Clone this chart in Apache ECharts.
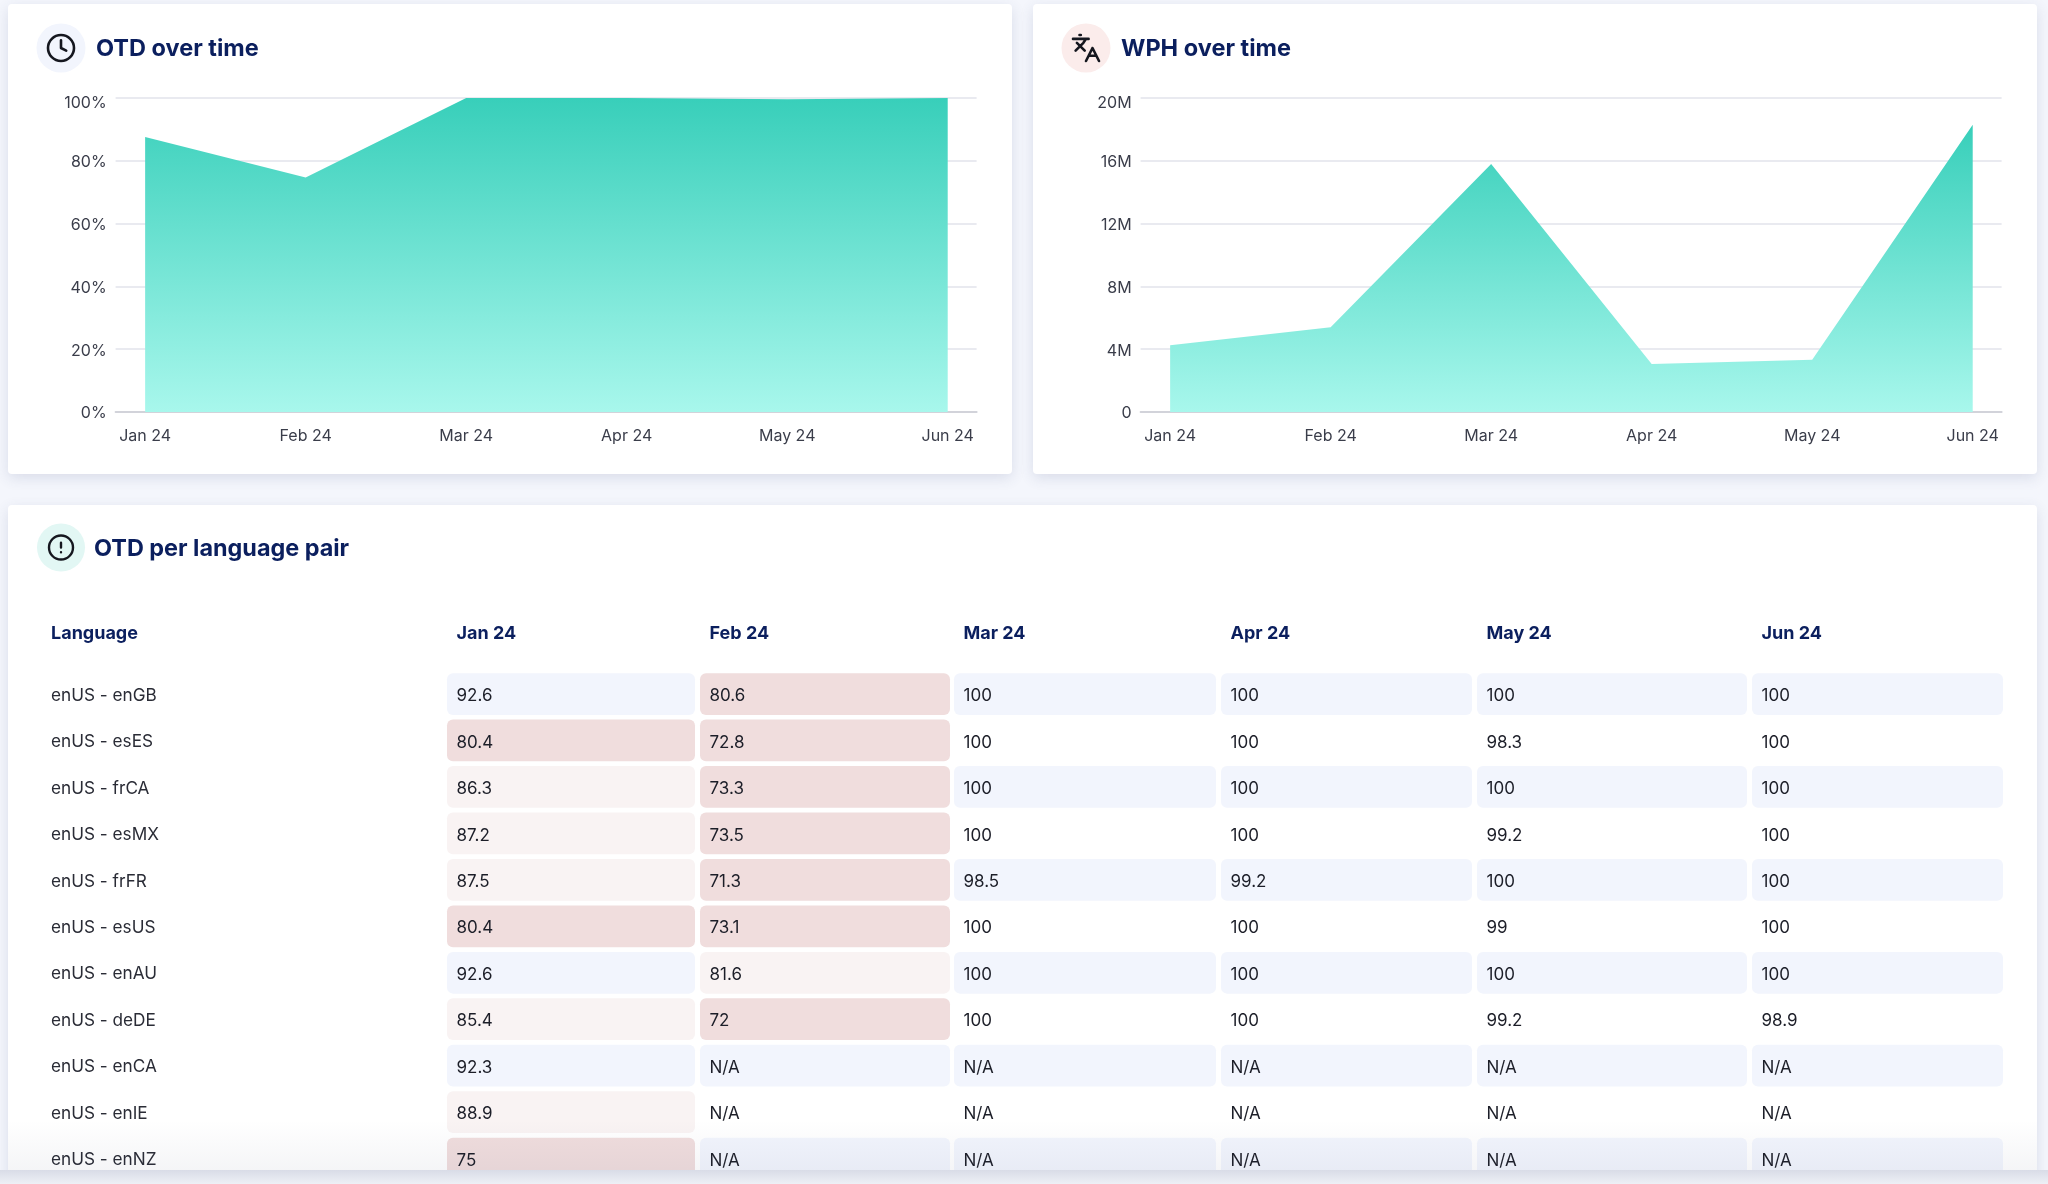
<!DOCTYPE html>
<html lang="en">
<head>
<meta charset="UTF-8">
<title>OTD dashboard</title>
<style>
  html, body { margin: 0; padding: 0; background: #f4f6fc; }
  #main { width: 2048px; height: 1184px; }
</style>
</head>
<body>
<div id="main"></div>
<script src="https://cdn.jsdelivr.net/npm/echarts@6/dist/echarts.min.js"></script>
<script>
// data
var months = ['Jan 24', 'Feb 24', 'Mar 24', 'Apr 24', 'May 24', 'Jun 24'];
var otdValues = [87.6, 74.7, 100, 100, 99.6, 100];
var wphValues = [4250000, 5400000, 15800000, 3060000, 3330000, 18300000];
var languages = ['enUS - enGB', 'enUS - esES', 'enUS - frCA', 'enUS - esMX', 'enUS - frFR', 'enUS - esUS',
  'enUS - enAU', 'enUS - deDE', 'enUS - enCA', 'enUS - enIE', 'enUS - enNZ'];
var janOtd = [92.6, 80.4, 86.3, 87.2, 87.5, 80.4, 92.6, 85.4, 92.3, 88.9, 75];
var febOtd = [80.6, 72.8, 73.3, 73.5, 71.3, 73.1, 81.6, 72, null, null, null];
var marOtd = [100, 100, 100, 100, 98.5, 100, 100, 100, null, null, null];
var aprOtd = [100, 100, 100, 100, 99.2, 100, 100, 100, null, null, null];
var mayOtd = [100, 98.3, 100, 99.2, 100, 99, 100, 99.2, null, null, null];
var junOtd = [100, 100, 100, 100, 100, 100, 100, 98.9, null, null, null];
var monthOtd = [janOtd, febOtd, marOtd, aprOtd, mayOtd, junOtd];

var FONT = 'Inter';
var NAVY = '#0b1f5e';
var TEXT = '#1c1e28';

// table column layout on the page
var colLeft = [447, 700, 954, 1221, 1477, 1752];
var colWidth = [248, 250, 262, 251, 270, 251];

function cellColor(v, row) {
  if (v !== null && v < 81) return '#f0dddd';
  if (v !== null && v < 90) return '#f9f3f3';
  return row % 2 === 0 ? '#f2f5fd' : '#ffffff';
}

function renderCell(params, api) {
  var col = params.seriesIndex - 2;
  var row = api.value(1);
  var v = monthOtd[col][params.dataIndex];
  var c = api.coord([api.value(0), row]);
  var s = api.size([1, 1]);
  var h = s[1] - 4.7;
  return {
    type: 'group',
    children: [{
      type: 'rect',
      shape: { x: c[0] - s[0] / 2, y: c[1] - h / 2, width: s[0], height: h, r: 6 },
      style: { fill: cellColor(v, row) }
    }, {
      type: 'text',
      style: {
        x: c[0] - s[0] / 2 + 9.5,
        y: c[1] + 2,
        text: v === null ? 'N/A' : String(v),
        fill: TEXT,
        font: '17px ' + FONT,
        align: 'left',
        verticalAlign: 'middle'
      }
    }]
  };
}

function areaSeries(values) {
  return {
    type: 'line',
    data: values.map(function (v, i) { return [i, v]; }),
    showSymbol: false,
    lineStyle: { width: 0 },
    areaStyle: {
      opacity: 1,
      color: new echarts.graphic.LinearGradient(0, 0, 0, 1, [
        { offset: 0, color: '#38cfba' },
        { offset: 1, color: '#a8f7ec' }
      ])
    }
  };
}

function monthAxis(gridIndex) {
  return {
    type: 'value',
    gridIndex: gridIndex,
    min: -0.184,
    max: 5.18,
    splitLine: { show: false },
    axisTick: { show: false },
    axisLine: { show: true, lineStyle: { color: '#d2d3da', width: 2 } },
    axisLabel: {
      customValues: [0, 1, 2, 3, 4, 5],
      formatter: function (v) { return months[v]; },
      color: '#3a3d4a',
      fontFamily: FONT,
      fontSize: 16,
      margin: 16
    }
  };
}

// the top tick label sits lower than its gridline in the original
function valueAxis(gridIndex, max, interval, fmt) {
  return {
    type: 'value',
    gridIndex: gridIndex,
    min: 0,
    max: max,
    interval: interval,
    axisLine: { show: false },
    axisTick: { show: false },
    splitLine: { lineStyle: { color: '#e9eaf0', width: 2 } },
    axisLabel: {
      formatter: function (v) {
        return v === max ? '{top|' + fmt(v) + '}' : fmt(v);
      },
      rich: { top: { padding: [8, 0, 0, 0], color: '#3a3d4a', fontFamily: FONT, fontSize: 16 } },
      padding: [3, 0, 0, 0],
      color: '#3a3d4a',
      fontFamily: FONT,
      fontSize: 16,
      margin: 9
    }
  };
}

function card(x, y, w, h) {
  return {
    type: 'rect', z: -10,
    shape: { x: x, y: y, width: w, height: h, r: 4 },
    style: { fill: '#fff', shadowBlur: 14, shadowOffsetY: 4, shadowColor: 'rgba(60,70,120,0.14)' }
  };
}

function iconBadge(cx, cy, r, fill) {
  return { type: 'circle', z: -5, shape: { cx: cx, cy: cy, r: r }, style: { fill: fill } };
}

var CLOCK = 'M2 12a10 10 0 1 0 20 0a10 10 0 1 0 -20 0 M12 6v6l4 2';
var LANG = 'M5 8l6 6 M4 14l6-6 2-3 M2 5h12 M7 2h1 M22 22l-5-10-5 10 M14 18h6';
var ALERT = 'M2 12a10 10 0 1 0 20 0a10 10 0 1 0 -20 0 M12 8v4 M12 16h.01';

function iconPath(d, cx, cy, scale) {
  return {
    type: 'path',
    x: cx - 12 * scale,
    y: cy - 12 * scale,
    scaleX: scale,
    scaleY: scale,
    shape: { pathData: d },
    style: { fill: 'none', stroke: '#15171f', lineWidth: 2, lineCap: 'round', lineJoin: 'round' }
  };
}

function heading(text, left, centerY, size) {
  return {
    text: text, left: left, top: centerY - size / 2, padding: 0,
    textStyle: { color: NAVY, fontFamily: FONT, fontWeight: 700, fontSize: size, lineHeight: size }
  };
}

var grids = [
  { left: 115.6, top: 98, width: 861, height: 314 },
  { left: 1140.6, top: 98, width: 861, height: 314 }
];
var xAxes = [monthAxis(0), monthAxis(1)];
var yAxes = [
  valueAxis(0, 100, 20, function (v) { return v + '%'; }),
  valueAxis(1, 20000000, 4000000, function (v) { return v === 0 ? '0' : v / 1000000 + 'M'; })
];
var series = [
  Object.assign(areaSeries(otdValues), { xAxisIndex: 0, yAxisIndex: 0 }),
  Object.assign(areaSeries(wphValues), { xAxisIndex: 1, yAxisIndex: 1 })
];
var titles = [
  heading('OTD over time', 96, 49, 23.5),
  heading('WPH over time', 1121, 49, 23.5),
  heading('OTD per language pair', 94, 549, 23.4),
  heading('Language', 51, 633.5, 18)
];

// one grid per table column, the columns are not the same width
months.forEach(function (m, i) {
  grids.push({ left: colLeft[i], top: 670.8, width: colWidth[i], height: 511 });
  xAxes.push({ type: 'category', gridIndex: i + 2, data: [m], show: false });
  yAxes.push({
    type: 'category', gridIndex: i + 2, data: languages, inverse: true, show: i === 0,
    axisLine: { show: false }, axisTick: { show: false },
    axisLabel: {
      align: 'left',
      margin: 396,
      formatter: function (l) { return '{lang|' + l + '}'; },
      rich: { lang: { padding: [3, 0, 0, 0], color: '#2a2c36', fontFamily: FONT, fontSize: 17.2 } }
    }
  });
  series.push({
    type: 'custom',
    xAxisIndex: i + 2,
    yAxisIndex: i + 2,
    renderItem: renderCell,
    encode: { x: 0, y: 1 },
    data: languages.map(function (l) { return [m, l]; })
  });
  titles.push(heading(m, colLeft[i] + 9.5, 633.5, 18));
});

// card icons
series.push({
  type: 'custom',
  coordinateSystem: 'none',
  data: [[0]],
  renderItem: function () {
    return {
      type: 'group',
      children: [
        iconPath(CLOCK, 61, 48, 1.3),
        iconPath(LANG, 1086, 48, 1.3),
        iconPath(ALERT, 61, 547.5, 1.2)
      ]
    };
  }
});

var chart = echarts.init(document.getElementById('main'));
chart.setOption({
  animation: false,
  backgroundColor: '#f4f6fc',
  title: titles,
  grid: grids,
  xAxis: xAxes,
  yAxis: yAxes,
  series: series,
  graphic: [
    card(8, 4, 1004, 470),
    card(1033, 4, 1004, 470),
    card(8, 505, 2029, 700),
    iconBadge(61, 48, 24.5, '#f2f5fd'),
    iconBadge(1086, 48, 24.5, '#fbeceb'),
    iconBadge(61, 547.5, 24, '#e2f7f4'),
    // fade at the cut off bottom of the table
    {
      type: 'rect', z: 100,
      shape: { x: 8, y: 1120, width: 2029, height: 50 },
      style: {
        fill: new echarts.graphic.LinearGradient(0, 0, 0, 1, [
          { offset: 0, color: 'rgba(50,60,100,0)' },
          { offset: 1, color: 'rgba(50,60,100,0.05)' }
        ])
      }
    },
    {
      type: 'rect', z: 100,
      shape: { x: 0, y: 1170, width: 2048, height: 14 },
      style: {
        fill: new echarts.graphic.LinearGradient(0, 0, 0, 1, [
          { offset: 0, color: '#d9dce7' },
          { offset: 1, color: '#eef0f6' }
        ])
      }
    }
  ]
});
</script>
</body>
</html>
